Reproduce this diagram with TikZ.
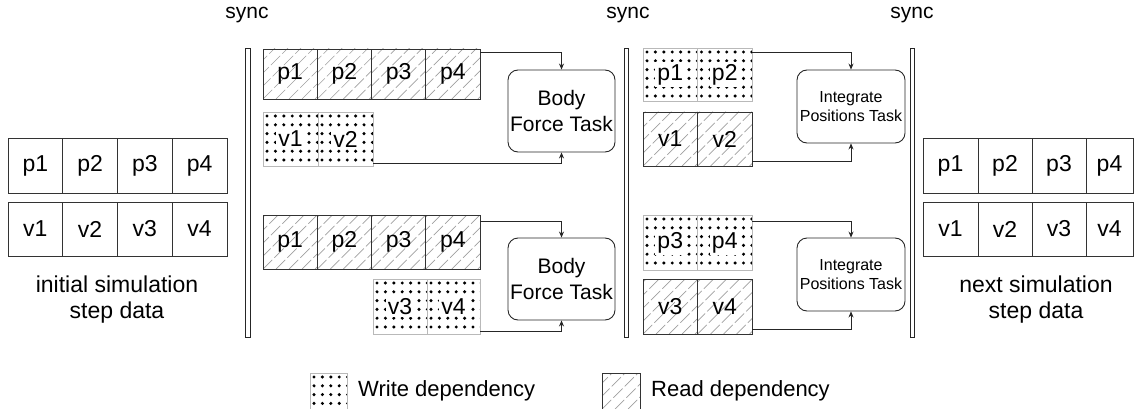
\documentclass[tikz,border=0pt]{standalone}
\usepackage{fontspec}
\setmainfont{Liberation Sans}
\usetikzlibrary{arrows.meta}
\begin{document}
\begin{tikzpicture}[x=1pt,y=-1pt,
  font=\fontsize{21}{26}\selectfont,
  plain/.style={draw=black!80, line width=0.9pt, anchor=north west, inner sep=0pt, outer sep=0pt,
    minimum width=54.5pt, minimum height=54pt, font=\fontsize{23}{27}\selectfont},
  hatch/.style={plain, path picture={
      \foreach \i in {-6,...,6}
        \draw[gray!75, line width=0.7pt, dash pattern=on 13pt off 3pt]
          ([xshift=\i*13pt]path picture bounding box.south west) -- ++(80pt,80pt);}},
  dots/.style={plain, draw=gray!55, path picture={
      \foreach \i in {0,...,7}
        \foreach \j in {0,...,7}
          \fill ([xshift={(4+\i*8.4)*1pt}, yshift={-(4+\j*8.8)*1pt}]path picture bounding box.north west) circle[radius=1.7pt];}},
  task/.style={draw=black!85, line width=0.9pt, rounded corners=10pt, align=center, inner sep=0pt},
  syncbar/.style={draw=black!85, fill=white, line width=0.8pt, minimum width=4.5pt, minimum height=289pt, inner sep=0pt},
  arr/.style={-{Stealth[length=6pt,width=5pt]}, line width=0.7pt, draw=black!85},
  biglab/.style={align=center, font=\fontsize{23}{26}\selectfont},
  legtext/.style={anchor=west, inner sep=0pt, font=\fontsize{22}{26}\selectfont}
]
\useasboundingbox (0,0) rectangle (1134,409);
\setlength\fboxsep{2pt}

% sync labels and bars
\node (t1) at (247,15) {sync};
\node (t2) at (628,15) {sync};
\node (t3) at (912,15) {sync};
\node[syncbar] (b1) at (247.75,192.5) {};
\node[syncbar] (b2) at (626.5,192.5) {};
\node[syncbar] (b3) at (912.5,192.5) {};

% initial data
\foreach \i/\x in {1/8,2/62.75,3/117.5,4/172.25} {
  \node[plain, minimum width=54.75pt, minimum height=55pt] (lp\i) at (\x,138) {p\i};
  \node[plain, minimum width=54.75pt] (lv\i) at (\x,202) {v\i};
}
\node[biglab] (lab1) at (117,300) {initial simulation\\step data};

% next data
\foreach \i/\x/\w in {1/923/55,2/978/54,3/1032/54,4/1086/47} {
  \node[plain, minimum width=\w pt, minimum height=55pt] (rp\i) at (\x,138) {p\i};
  \node[plain, minimum width=\w pt] (rv\i) at (\x,202) {v\i};
}
\node[biglab] (lab2) at (1036,300) {next simulation\\step data};

% body force section
\foreach \i/\x in {1/263,2/317.25,3/371.5,4/425.75} {
  \node[hatch, minimum width=54.25pt, minimum height=50pt] (ap\i) at (\x,49) {p\i};
  \node[hatch, minimum width=54.25pt, minimum height=54pt] (cp\i) at (\x,215) {p\i};
}
\node[dots, minimum width=55pt] (av1) at (263,112) {\colorbox{white}{v1}};
\node[dots, minimum width=55pt] (av2) at (318,112) {\colorbox{white}{v2}};
\node[dots, minimum width=54pt, minimum height=55pt] (cv3) at (373,279) {\colorbox{white}{v3}};
\node[dots, minimum width=53pt, minimum height=55pt] (cv4) at (427,279) {\colorbox{white}{v4}};

\node[task, minimum width=107pt, minimum height=82pt] (bf1) at (561.5,111) {Body\\Force Task};
\node[task, minimum width=107pt, minimum height=82pt] (bf2) at (561.5,279) {Body\\Force Task};

\draw[arr] ([yshift=-3pt]ap4.north east) -| (bf1.north);
\draw[arr] ([yshift=3pt]av2.south east) -| (bf1.south);
\draw[arr] ([yshift=-6pt]cp4.north east) -| (bf2.north);
\draw[arr] ([yshift=3pt]cv4.south east) -| (bf2.south);

% integrate section
\node[dots, minimum height=53pt] (bp1) at (643,48) {\colorbox{white}{p1}};
\node[dots, minimum height=53pt] (bp2) at (697.5,48) {\colorbox{white}{p2}};
\node[hatch] (bv1) at (643,112) {v1};
\node[hatch] (bv2) at (697.5,112) {v2};
\node[dots, minimum height=55pt] (dp3) at (643,215) {\colorbox{white}{p3}};
\node[dots, minimum height=55pt] (dp4) at (697.5,215) {\colorbox{white}{p4}};
\node[hatch, minimum height=55pt] (dv3) at (643,279) {v3};
\node[hatch, minimum height=55pt] (dv4) at (697.5,279) {v4};

\node[task, font=\fontsize{16}{19}\selectfont, minimum width=108pt, minimum height=73pt] (ip1) at (851,106.5) {Integrate\\Positions Task};
\node[task, font=\fontsize{16}{19}\selectfont, minimum width=108pt, minimum height=73pt] (ip2) at (851,274.5) {Integrate\\Positions Task};

\draw[arr] ([yshift=-4pt]bp2.north east) -| (ip1.north);
\draw[arr] ([yshift=5pt]bv2.south east) -| (ip1.south);
\draw[arr] ([yshift=-6pt]dp4.north east) -| (ip2.north);
\draw[arr] ([yshift=5pt]dv4.south east) -| (ip2.south);

% legend
\node[dots, minimum width=37pt, minimum height=36pt] (lgw) at (310,373) {};
\node[legtext] (lgwt) at ([xshift=11pt]lgw.east) {Write dependency};
\node[hatch, minimum width=38pt, minimum height=36pt] (lgr) at (602,373) {};
\node[legtext] (lgrt) at ([xshift=11pt]lgr.east) {Read dependency};
\end{tikzpicture}
\end{document}
